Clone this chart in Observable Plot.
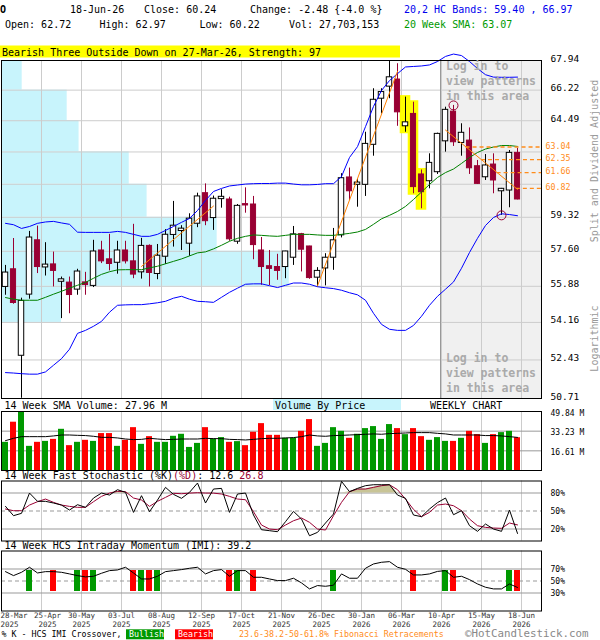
<!DOCTYPE html>
<html><head><meta charset="utf-8">
<script src="https://cdn.jsdelivr.net/npm/d3@7"></script>
<script src="https://cdn.jsdelivr.net/npm/@observablehq/plot@0.6"></script>
<style>
html,body{margin:0;padding:0;background:#fff;}
#wrap{position:relative;width:600px;height:640px;overflow:hidden;background:#fff;}
</style></head><body><div id="wrap"></div>
<script>
// ---------- DATA (weekly bars, index 0 = 28-Mar-2025 ... 64 = 18-Jun-2026) ----------
const opens = [55.85,56.71,52.62,55.48,58.15,56.80,56.95,56.10,56.06,55.72, 56.07,55.90,57.64,57.20,57.03,57.64,57.10,56.56,57.87,56.48, 57.33,58.42,58.62,57.98,58.99,60.57,59.28,60.26,60.24,58.08, 60.00,59.98,57.64,56.86,56.82,56.82,57.28,58.46,57.84,56.30, 56.75,57.28,58.40,61.40,61.01,61.01,63.16,65.73,66.42,66.83, 64.18,64.87,61.56,61.20,61.68,63.35,65.00,63.26,63.39,62.00, 61.41,62.09,60.67,60.71,62.72];
const highs = [56.90,58.24,55.31,58.60,58.87,58.03,57.56,56.33,56.33,56.71, 56.56,58.15,58.10,58.45,58.10,58.10,58.96,58.25,57.92,57.94, 58.69,60.14,58.89,59.50,60.57,61.06,60.42,60.75,60.36,59.98, 60.85,60.40,58.29,57.64,57.45,57.60,58.85,58.50,57.85,56.79, 57.48,58.75,61.60,61.90,61.29,63.85,66.30,66.30,67.88,67.75, 65.82,65.53,61.80,62.67,63.80,65.25,65.35,64.32,64.09,62.31, 62.63,62.67,60.82,62.85,62.97];
const lows = [55.45,55.02,50.72,55.26,56.50,56.38,55.85,54.34,54.57,55.45, 55.45,55.82,56.99,56.63,56.47,56.97,56.25,56.23,55.85,56.20, 56.95,57.81,57.64,57.35,58.79,58.89,58.65,59.79,58.10,57.95, 59.53,57.18,55.93,55.92,56.17,56.25,56.90,56.58,56.22,55.85, 55.90,56.66,58.27,60.19,59.84,60.40,62.54,64.87,65.73,64.18, 63.85,60.54,59.76,60.80,61.56,62.76,63.07,62.54,61.56,61.03, 61.24,60.54,59.42,59.81,60.22];
const closes = [56.55,55.08,55.18,58.29,56.82,56.94,56.63,56.22,55.46,56.60, 55.94,57.59,57.10,56.97,57.64,57.10,56.45,57.87,56.53,57.38, 58.43,58.89,58.74,59.25,60.40,59.12,60.28,60.38,58.20,59.91, 59.93,57.91,56.82,56.73,56.63,57.59,58.45,57.68,56.28,56.63, 57.28,58.15,61.36,60.67,61.13,63.21,65.67,66.11,66.96,64.96, 64.40,60.89,60.62,62.18,63.76,65.10,63.30,63.82,61.89,61.06, 62.04,61.24,60.80,62.72,60.24];
const upperBand = [59.01,58.94,58.75,58.85,59.01,59.08,59.11,59.03,58.96,58.56, 58.55,58.55,58.55,58.55,58.60,58.55,58.45,58.35,58.35,58.45, 58.65,58.85,59.06,59.26,59.67,60.19,60.66,60.82,60.95,61.00, 61.05,61.07,61.08,61.08,61.10,61.10,61.05,61.01,61.01,61.03, 61.07,61.07,61.45,62.47,63.06,64.16,65.29,66.20,66.77,67.17, 67.56,67.59,67.62,67.68,67.88,68.18,68.32,68.23,67.88,67.47, 67.11,66.97,66.96,66.96,66.97];
const lowerBand = [51.86,51.84,51.81,51.79,51.79,51.89,52.19,52.49,52.92,53.65, 53.79,53.98,54.21,54.64,54.97,54.99,55.00,55.00,55.04,55.09, 55.16,55.31,55.40,55.26,55.16,55.14,55.11,55.35,55.59,55.79, 55.98,56.00,56.00,55.91,55.82,55.93,56.04,56.04,55.98,55.86, 55.81,55.77,55.69,55.57,55.47,55.21,54.59,54.07,53.84,53.79, 53.79,54.02,54.45,54.97,55.40,55.74,56.09,56.76,57.54,58.25, 58.90,59.31,59.50,59.46,59.40];
const sma20 = [55.34,55.26,55.21,55.21,55.21,55.35,55.50,55.64,55.79,55.93, 56.07,56.27,56.46,56.59,56.68,56.69,56.69,56.69,56.78,56.86, 56.98,57.10,57.22,57.37,57.52,57.57,57.72,57.90,58.10,58.25, 58.35,58.42,58.40,58.37,58.35,58.40,58.45,58.45,58.45,58.42, 58.40,58.40,58.45,58.50,58.57,58.70,58.96,59.24,59.42,59.62, 59.88,60.24,60.63,61.03,61.40,61.66,61.85,62.15,62.47,62.74, 62.93,63.04,63.12,63.12,63.07];
const volumes = [23.8,40.8,49.8,20.4,23.8,24.6,26.3,34.8,21.0,23.8, 25.5,24.6,31.2,31.2,20.4,25.5,36.2,22.1,28.6,23.8, 23.8,28.9,30.6,19.5,22.9,36.2,26.6,27.8,23.8,24.4, 21.0,32.3,39.6,29.7,29.7,27.2,27.2,33.1,43.0,20.4, 22.9,36.2,33.1,27.2,30.6,35.4,37.1,26.3,38.8,35.4, 30.3,35.4,28.6,25.5,27.8,24.6,24.6,27.2,33.1,30.3, 22.9,30.3,32.0,33.1,27.7];
const volumeSma = [25.2,27.2,28.6,28.6,28.6,28.6,29.2,30.0,30.0,29.7, 29.5,28.9,28.0,28.0,27.5,26.6,26.1,26.3,27.2,26.6, 26.1,26.3,26.6,26.6,26.6,27.2,26.9,26.9,26.3,26.1, 25.8,26.3,26.9,27.2,27.2,27.5,27.8,28.6,30.0,29.2, 28.9,29.5,29.7,30.0,30.3,30.6,30.9,30.6,31.2,31.4, 31.7,32.0,32.0,32.0,31.4,30.9,30.0,30.0,30.0,30.0, 29.5,29.5,29.2,28.6,27.96];
const stochK = [57.7,42.2,46.1,79.9,66.1,66.1,63.3,59.9,51.6,60.5, 56.1,71.6,79.9,76.6,85.5,81.1,47.7,75.5,48.8,68.3, 89.4,77.7,71.1,81.1,96.6,63.3,86.6,87.7,47.7,78.3, 79.9,43.3,18.8,17.2,15.5,32.2,49.4,36.6,8.8,14.4, 30.0,45.0,99.4,82.2,87.7,92.2,93.8,93.8,93.8,76.6, 71.1,43.3,40.5,53.3,64.0,71.6,43.8,50.5,25.5,16.1, 28.3,19.9,16.1,51.6,12.6];
const stochD = [53.3,50.5,50.5,59.9,65.5,69.9,64.4,59.9,57.7,56.1, 56.1,65.5,74.4,79.9,82.7,82.2,71.6,68.3,57.7,66.1, 72.7,79.5,78.8,79.8,80.5,79.9,79.8,78.3,74.4,69.9, 68.8,48.8,26.6,19.9,18.8,26.6,33.8,38.3,31.1,19.9, 18.3,42.2,64.4,82.2,86.6,86.6,89.4,92.2,93.8,85.5, 69.9,52.7,40.5,47.7,59.9,61.6,58.8,50.5,36.6,25.5, 22.7,21.6,21.1,30.0,26.8];
const imiValues = [65.6,59.0,64.5,72.9,63.4,65.6,65.6,64.5,61.8,59.0, 56.8,57.9,62.9,67.3,68.4,72.9,63.4,53.4,53.4,57.9, 65.6,67.3,69.0,71.2,72.9,61.8,67.3,69.0,57.9,67.3, 67.3,56.2,56.2,53.4,50.7,50.7,54.6,46.8,36.8,42.4, 41.2,43.0,61.8,54.6,54.6,71.2,78.4,81.2,82.3,72.9, 69.5,60.1,60.1,61.8,66.0,67.3,56.2,57.9,52.3,45.1, 39.6,36.8,36.8,45.1,39.2];
const bullishIdx = [3,9,11,17,19,29,41,55,63];
const bearishIdx = [6,10,16,18,28,31,51,56,64];
const patternIdx = [50,51,52];               // Bearish Three Outside Down
const swingHighIdx = 56, swingLowIdx = 62;
const priceTicks = [67.94,66.22,64.49,62.77,61.04,59.32,57.60,55.88,54.16,52.43,50.71];
const priceTickLabels = [67.94,66.22,64.49,59.32,57.60,55.88,54.16,52.43,50.71];
const vbpShares = [80,254,300,494,563,834,1113,232,0,0]; // volume by price, per zone (top→bottom)
const fibLevels = [63.04,62.35,61.66,60.82];
const trendLines = [
  [{i:17,p:56.85},{i:26,p:59.90}],
  [{i:39,p:55.90},{i:49,p:67.30}],
  [{i:55,p:63.97},{i:64,p:60.77}]
];
const volTicks = [49.84,33.23,16.61];
const stochTicks = [80,50,20];
const imiTicks = [70,50,30];
const tickIdx = [0,4,9,14,19,24,29,34,39,44,49,54,59,64];
const tickLabels = ["28-Mar\n2025","25-Apr\n2025","30-May\n2025","03-Jul\n2025","08-Aug\n2025","12-Sep\n2025","17-Oct\n2025","21-Nov\n2025","26-Dec\n2025","30-Jan\n2026","06-Mar\n2026","10-Apr\n2026","15-May\n2026","18-Jun\n2026"];
const loginFromIdx = 54.375;

// ---------- BUILD ----------
const RED = "#990033", BLUE = "#0000ff", ORANGE = "#ff8000", FIB = "#ff8c1a";
const X_MIN = -0.5, X_MAX = 67;
const FONT = "DejaVu Sans Mono, monospace";
const rows = opens.map((o,i)=>({i, open:o, high:highs[i], low:lows[i], close:closes[i], up: closes[i]>=o,
  vol:volumes[i], volSma:volumeSma[i], upper:upperBand[i], lower:lowerBand[i], sma:sma20[i],
  k:stochK[i], d:stochD[i], imi:imiValues[i]}));
const up = rows.filter(d=>d.up), dn = rows.filter(d=>!d.up);
const gridIdx = tickIdx.slice(1).map(i=>i+0.5);
const baseStyle = {background:"transparent", overflow:"visible", fontFamily:FONT};
const xScale = {domain:[X_MIN, X_MAX], axis:null};
const wrap = document.getElementById("wrap");
function place(el, top){ el.style.position="absolute"; el.style.left="0px"; el.style.top=top+"px"; wrap.appendChild(el); }

const vbpMax = d3.max(vbpShares);
const vbpZones = vbpShares.map((v,j)=>({v, hi:priceTicks[j], lo:priceTicks[j+1]})).filter(d=>d.v>0);
const vbpSpan = 0.533*(X_MAX-X_MIN);
const trendData = trendLines.flatMap((seg,k)=>seg.map(p=>({...p,k})));
const swing = trendLines[2];
const fibStart = L => swing[0].i + Math.log(swing[0].p/L)/Math.log(swing[0].p/swing[1].p)*(swing[1].i-swing[0].i);
const swingPts = [{i:swingHighIdx, p:highs[swingHighIdx]}, {i:swingLowIdx, p:lows[swingLowIdx]}];

const price = Plot.plot({
  width:600, height:350, marginTop:10, marginBottom:2, marginLeft:1, marginRight:59,
  x:xScale, y:{type:"log", domain:[50.71,67.94], axis:null}, style:baseStyle,
  marks:[
    Plot.rect([0], {x1:()=>loginFromIdx, x2:()=>X_MAX, y1:()=>50.71, y2:()=>67.94, fill:"#f0f0f0"}),
    Plot.rect(vbpZones, {x1:()=>X_MIN, x2:d=>X_MIN + d.v/vbpMax*vbpSpan, y1:"lo", y2:"hi", fill:"#c8f4fc"}),
    Plot.ruleY(priceTicks, {stroke:"#cccccc"}),
    Plot.ruleX(gridIdx, {stroke:"#cccccc"}),
    Plot.ruleX([loginFromIdx], {stroke:"#999999"}),
    Plot.rect(rows.filter(d=>patternIdx.includes(d.i)), {x1:d=>d.i-0.66, x2:d=>d.i+0.66, y1:"low", y2:"high", insetTop:-1.5, insetBottom:-1.5, fill:"#ffff00"}),
    Plot.ruleX(up, {x:"i", y1:"low", y2:"high", stroke:"black"}),
    Plot.ruleX(dn, {x:"i", y1:"low", y2:"high", stroke:RED}),
    Plot.rect(up, {x1:d=>d.i-0.34, x2:d=>d.i+0.34, y1:"open", y2:"close", fill:"white", stroke:"black"}),
    Plot.rect(dn, {x1:d=>d.i-0.32, x2:d=>d.i+0.32, y1:"open", y2:"close", fill:RED, stroke:RED}),
    Plot.line(rows, {x:"i", y:"upper", stroke:BLUE, strokeWidth:1}),
    Plot.line(rows, {x:"i", y:"lower", stroke:BLUE, strokeWidth:1}),
    Plot.line(rows, {x:"i", y:"sma", stroke:"#008000", strokeWidth:1}),
    Plot.line(trendData, {x:"i", y:"p", z:"k", stroke:ORANGE, strokeWidth:1}),
    Plot.ruleY(fibLevels, {y:d=>d, x1:d=>fibStart(d), x2:()=>X_MAX, stroke:FIB, strokeWidth:1.3, strokeDasharray:"4,3"}),
    Plot.text(fibLevels, {y:d=>d, x:()=>X_MAX, dx:4, dy:-1, text:d=>d.toFixed(2), textAnchor:"start", fill:FIB, fontSize:8.3}),
    Plot.dot(swingPts, {x:"i", y:"p", r:4.5, stroke:RED, fill:"none", strokeWidth:1}),
    Plot.text(priceTickLabels, {y:d=>d, x:()=>X_MAX, dx:9, dy:-2, text:d=>d.toFixed(2), textAnchor:"start", fill:"black", fontSize:9.5}),
    Plot.frame({stroke:"black"})
  ]
});
place(price, 50);

const vol = Plot.plot({
  width:600, height:67, marginTop:6, marginBottom:2, marginLeft:1, marginRight:59,
  x:xScale, y:{domain:[0,49.84], axis:null}, style:baseStyle,
  marks:[
    Plot.ruleX(gridIdx, {stroke:"#cccccc"}),
    Plot.ruleY(volTicks.slice(1), {stroke:"#999999"}),
    Plot.rect(up, {x1:d=>d.i-0.375, x2:d=>d.i+0.375, y1:()=>0, y2:"vol", fill:"#009900"}),
    Plot.rect(dn, {x1:d=>d.i-0.375, x2:d=>d.i+0.375, y1:()=>0, y2:"vol", fill:"#ff0000"}),
    Plot.line(rows, {x:"i", y:"volSma", stroke:"black", strokeWidth:1}),
    Plot.text(volTicks, {y:d=>d, x:()=>X_MAX, dx:9, dy:1.5, text:d=>d.toFixed(2)+" M", textAnchor:"start", fill:"black", fontSize:8}),
    Plot.frame({stroke:"black"})
  ]
});
place(vol, 405);

const stoch = Plot.plot({
  width:600, height:66, marginTop:5.5, marginBottom:0.5, marginLeft:1, marginRight:59,
  x:xScale, y:{domain:[0,100], axis:null}, style:baseStyle,
  marks:[
    Plot.ruleX(gridIdx, {stroke:"#cccccc"}),
    Plot.ruleY([80,20], {stroke:"#999999"}),
    Plot.ruleY([50], {stroke:"#999999", strokeDasharray:"4,3"}),
    Plot.areaY(rows, {x:"i", y1:()=>80, y2:d=>Math.max(80, Math.min(d.k,d.d)), fill:"#c8c496"}),
    Plot.line(rows, {x:"i", y:"d", stroke:RED, strokeWidth:1}),
    Plot.line(rows, {x:"i", y:"k", stroke:"black", strokeWidth:1}),
    Plot.text(stochTicks, {y:d=>d, x:()=>X_MAX, dx:9, text:d=>d+"%", textAnchor:"start", fill:"black", fontSize:8}),
    Plot.frame({stroke:"black"})
  ]
});
place(stoch, 475);

const dateStyle = {frameAnchor:"bottom", lineAnchor:"top", dy:1.5, fontSize:7.5, lineHeight:1.1, fill:"#333"};
const imi = Plot.plot({
  width:600, height:87, marginTop:5.5, marginBottom:21.5, marginLeft:1, marginRight:59,
  x:xScale, y:{domain:[0,100], axis:null}, style:baseStyle,
  marks:[
    Plot.ruleX(gridIdx, {stroke:"#cccccc"}),
    Plot.ruleY([70,30], {stroke:"#999999"}),
    Plot.ruleY([50], {stroke:"#999999", strokeDasharray:"4,3"}),
    Plot.rect(bullishIdx, {x1:d=>d-0.375, x2:d=>d+0.375, y1:()=>30, y2:()=>70, insetTop:1.5, insetBottom:1.5, fill:"#009900"}),
    Plot.rect(bearishIdx, {x1:d=>d-0.375, x2:d=>d+0.375, y1:()=>30, y2:()=>70, insetTop:1.5, insetBottom:1.5, fill:"#ff0000"}),
    Plot.line(rows, {x:"i", y:"imi", stroke:"black", strokeWidth:1}),
    Plot.text(imiTicks, {y:d=>d, x:()=>X_MAX, dx:9, text:d=>d+"%", textAnchor:"start", fill:"black", fontSize:8}),
    Plot.frame({stroke:"black"}),
    // first label pinned to the left edge, second nudged right so they do not collide
    Plot.text(tickLabels.slice(0,1), {x:()=>X_MIN, dx:-1, text:d=>d, textAnchor:"start", ...dateStyle}),
    Plot.text(tickLabels.slice(1,2), {x:()=>tickIdx[1]+0.5, dx:6, text:d=>d, ...dateStyle}),
    Plot.text(tickLabels.slice(2), {x:(d,j)=>tickIdx[j+2]+0.5, text:d=>d, ...dateStyle})
  ]
});
place(imi, 545);

// ---------- ANNOTATION TEXT ----------
const n = closes.length - 1;
const chg = closes[n]-closes[n-1];
const ov = d3.create("svg").attr("width",600).attr("height",640)
  .style("position","absolute").style("left","0px").style("top","0px")
  .style("font-family",FONT).style("pointer-events","none");
function t(x,y,str,o={}){
  const el = ov.append("text").attr("x",x).attr("y",y).attr("font-size",o.size||10)
    .attr("fill",o.fill||"black").style("white-space","pre").text(str);
  if(o.weight) el.attr("font-weight",o.weight);
  if(o.anchor) el.attr("text-anchor",o.anchor);
  if(o.rotate) el.attr("transform",`rotate(-90 ${x} ${y})`);
  return el;
}
t(0,13,"O",{weight:"bold"});
t(70,13,"18-Jun-26");
t(144,13,`Close: ${closes[n].toFixed(2)}`);
t(250,13,`Change: ${chg.toFixed(2)} {${(chg/closes[n-1]*100).toFixed(1)} %}`);
t(404,13,`20,2 HC Bands: ${lowerBand[n].toFixed(2)} , ${upperBand[n].toFixed(2)}`,{fill:"#0000ee"});
t(5,28,`Open: ${opens[n].toFixed(2)}`);
t(99.5,28,`High: ${highs[n].toFixed(2)}`);
t(199.5,28,`Low: ${lows[n].toFixed(2)}`);
t(289,28,"Vol: 27,703,153");
t(404,28,`20 Week SMA: ${sma20[n].toFixed(2)}`,{fill:"#009900"});
ov.append("rect").attr("x",0).attr("y",45.5).attr("width",400).attr("height",12).attr("fill","#ffff00");
t(2,55.5,"Bearish Three Outside Down on 27-Mar-26, Strength: 97");
["Log in to","view patterns","in this area"].forEach((s,j)=>{
  t(446,70+15*j,s,{size:11.5,weight:"bold",fill:"#aaaaaa"});
  t(446,362+15*j,s,{size:11.5,weight:"bold",fill:"#aaaaaa"});
});
t(598,161,"Split and Dividend Adjusted",{fill:"#999",anchor:"middle",rotate:true});
t(598,338.5,"Logarithmic",{fill:"#999",anchor:"middle",rotate:true});
t(4.5,409,`14 Week SMA Volume: ${volumeSma[n].toFixed(2)} M`);
ov.append("rect").attr("x",273).attr("y",399).attr("width",128).attr("height",11).attr("fill","#c8f4fc");
t(275,409,"Volume By Price");
t(430,409,"WEEKLY CHART");
const st = t(4.5,479,"14 Week Fast Stochastic (%K)");
st.append("tspan").attr("fill",RED).text("(%D)");
st.append("tspan").text(`: ${stochK[n].toFixed(1)} `);
st.append("tspan").attr("fill",RED).text(stochD[n].toFixed(1));
t(4.5,549,`14 Week HCS Intraday Momentum (IMI): ${imiValues[n].toFixed(1)}`);
t(1.5,637.3,"% K - HCS IMI Crossover,",{size:8.3});
ov.append("rect").attr("x",126).attr("y",629.3).attr("width",38).attr("height",10).attr("fill","#009900");
t(129,637.3,"Bullish",{size:8.3,fill:"white"});
ov.append("rect").attr("x",175).attr("y",629.3).attr("width",38).attr("height",10).attr("fill","#ff0000");
t(178,637.3,"Bearish",{size:8.3,fill:"white"});
t(239,637.3,"23.6-38.2-50-61.8% Fibonacci Retracements",{size:8.3,fill:FIB});
t(465,637.4,"\u00a9HotCandlestick.com",{size:10.8,fill:"#888"});
wrap.appendChild(ov.node());
</script></body></html>
